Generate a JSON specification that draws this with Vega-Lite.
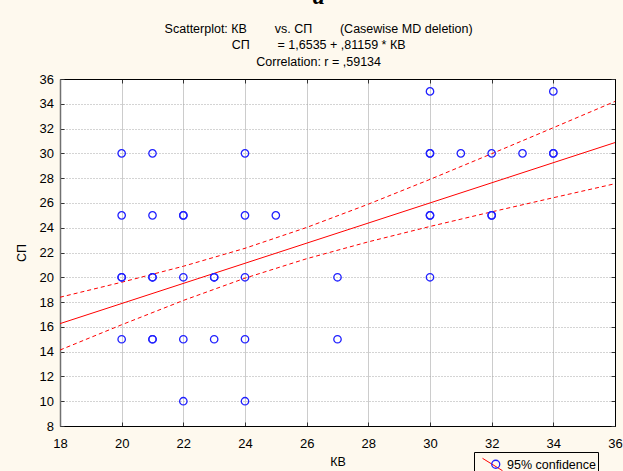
{
  "$schema": "https://vega.github.io/schema/vega-lite/v6.json",
  "width": 555,
  "height": 347,
  "autosize": {"type": "none"},
  "padding": {"left": 60, "top": 79, "right": 8, "bottom": 45},
  "background": "#FEF9EE",
  "title": {
    "text": "a",
    "subtitle": [
      "Scatterplot: КВ\u00a0\u00a0\u00a0\u00a0\u00a0\u00a0\u00a0 vs. СП\u00a0\u00a0\u00a0\u00a0\u00a0\u00a0\u00a0 (Casewise MD deletion)",
      "СП\u00a0\u00a0\u00a0\u00a0\u00a0\u00a0\u00a0 = 1,6535 + ,81159 * КВ",
      "Correlation: r = ,59134"
    ],
    "font": "Liberation Serif",
    "fontStyle": "italic",
    "fontWeight": "bold",
    "fontSize": 24,
    "color": "#000",
    "subtitleFont": "Liberation Sans",
    "subtitleFontSize": 12.5,
    "subtitleLineHeight": 16.5,
    "subtitleColor": "#000",
    "subtitlePadding": 14,
    "anchor": "middle",
    "frame": "bounds",
    "offset": 5
  },
  "datasets": {
    "pts": [
      {"KB": 20, "SP": 30}, {"KB": 20, "SP": 25}, {"KB": 20, "SP": 20}, {"KB": 20, "SP": 20}, {"KB": 20, "SP": 15},
      {"KB": 21, "SP": 30}, {"KB": 21, "SP": 25}, {"KB": 21, "SP": 20}, {"KB": 21, "SP": 20}, {"KB": 21, "SP": 15}, {"KB": 21, "SP": 15},
      {"KB": 22, "SP": 25}, {"KB": 22, "SP": 25}, {"KB": 22, "SP": 20}, {"KB": 22, "SP": 15}, {"KB": 22, "SP": 10},
      {"KB": 23, "SP": 20}, {"KB": 23, "SP": 20}, {"KB": 23, "SP": 15},
      {"KB": 24, "SP": 30}, {"KB": 24, "SP": 25}, {"KB": 24, "SP": 20}, {"KB": 24, "SP": 15}, {"KB": 24, "SP": 10},
      {"KB": 25, "SP": 25},
      {"KB": 27, "SP": 20}, {"KB": 27, "SP": 15},
      {"KB": 30, "SP": 35}, {"KB": 30, "SP": 30}, {"KB": 30, "SP": 30}, {"KB": 30, "SP": 25}, {"KB": 30, "SP": 25}, {"KB": 30, "SP": 20},
      {"KB": 31, "SP": 30},
      {"KB": 32, "SP": 30}, {"KB": 32, "SP": 25}, {"KB": 32, "SP": 25},
      {"KB": 33, "SP": 30},
      {"KB": 34, "SP": 35}, {"KB": 34, "SP": 30}, {"KB": 34, "SP": 30}
    ],
    "fit": [
      {"KB": 18, "SP": 16.26},
      {"KB": 36, "SP": 30.87}
    ],
    "band": [
      {"KB": 18, "hi": 18.39, "lo": 14.13},
      {"KB": 20, "hi": 19.60, "lo": 16.17},
      {"KB": 22, "hi": 20.89, "lo": 18.13},
      {"KB": 24, "hi": 22.34, "lo": 19.93},
      {"KB": 26, "hi": 24.02, "lo": 21.50},
      {"KB": 28, "hi": 25.90, "lo": 22.86},
      {"KB": 30, "hi": 27.90, "lo": 24.10},
      {"KB": 32, "hi": 29.97, "lo": 25.28},
      {"KB": 34, "hi": 32.07, "lo": 26.42},
      {"KB": 36, "hi": 34.19, "lo": 27.55}
    ]
  },
  "layer": [
    {
      "data": {"name": "band"},
      "mark": {"type": "line", "color": "#ff0000", "strokeWidth": 1, "strokeDash": [4, 3]},
      "encoding": {
        "x": {
          "field": "KB", "type": "quantitative",
          "scale": {"domain": [18, 36], "nice": false, "zero": false},
          "axis": {
            "orient": "bottom",
            "values": [18, 20, 22, 24, 26, 28, 30, 32, 34, 36],
            "title": "КВ",
            "titleFont": "Liberation Sans", "titleFontSize": 12.5, "titleFontWeight": "normal", "titleColor": "#000", "titlePadding": 5,
            "labelFont": "Liberation Sans", "labelFontSize": 13, "labelColor": "#000",
            "labelFlush": false, "labelOverlap": false,
            "tickSize": -4, "tickColor": "#333", "labelPadding": 15,
            "domainColor": "#000",
            "grid": true, "gridColor": "#cccccc", "gridWidth": 1
          }
        },
        "y": {
          "field": "hi", "type": "quantitative",
          "scale": {"domain": [8, 36], "nice": false, "zero": false},
          "axis": {
            "orient": "left",
            "values": [8, 10, 12, 14, 16, 18, 20, 22, 24, 26, 28, 30, 32, 34, 36],
            "title": "СП",
            "titleFont": "Liberation Sans", "titleFontSize": 12.5, "titleFontWeight": "normal", "titleColor": "#000", "titlePadding": 11,
            "labelFont": "Liberation Sans", "labelFontSize": 13, "labelColor": "#000",
            "labelFlush": false, "labelOverlap": false,
            "tickSize": -4, "tickColor": "#333", "labelPadding": 10.5,
            "domainColor": "#707070", "domainWidth": 1.5,
            "grid": true, "gridColor": "#a8a8a8", "gridDash": [1, 2], "gridWidth": 1
          }
        }
      }
    },
    {
      "data": {"name": "band"},
      "mark": {"type": "line", "color": "#ff0000", "strokeWidth": 1, "strokeDash": [4, 3]},
      "encoding": {
        "x": {
          "field": "KB", "type": "quantitative",
          "axis": {
            "orient": "top", "values": [18, 20, 22, 24, 26, 28, 30, 32, 34, 36],
            "title": null, "labels": false, "tickSize": -4, "tickColor": "#333", "domainColor": "#000", "grid": false
          }
        },
        "y": {
          "field": "lo", "type": "quantitative",
          "axis": {
            "orient": "right", "values": [8, 10, 12, 14, 16, 18, 20, 22, 24, 26, 28, 30, 32, 34, 36],
            "title": null, "labels": false, "tickSize": -4, "tickColor": "#333", "domainColor": "#000", "grid": false
          }
        }
      }
    },
    {
      "data": {"name": "fit"},
      "mark": {"type": "line", "strokeWidth": 1},
      "encoding": {
        "x": {"field": "KB", "type": "quantitative", "axis": null},
        "y": {"field": "SP", "type": "quantitative", "axis": null},
        "color": {
          "datum": "95% confidence",
          "scale": {"range": ["#ff0000"]},
          "legend": {
            "orient": "none", "legendX": 414, "legendY": 373,
            "title": null,
            "symbolType": "M-1,-0.62L1,0.62",
            "symbolSize": 400,
            "symbolStrokeColor": "#ff0000",
            "symbolStrokeWidth": 1,
            "symbolFillColor": "transparent",
            "symbolOffset": 6,
            "padding": 2,
            "strokeColor": "#000",
            "labelFont": "Liberation Sans", "labelFontSize": 12.5, "labelColor": "#000",
            "labelOffset": 4, "labelLimit": 400,
            "labelExpr": "datum.label + '\u00a0\u00a0\u00a0\u00a0\u00a0\u00a0\u00a0\u00a0'"
          }
        }
      }
    },
    {
      "data": {"name": "pts"},
      "mark": {"type": "point", "filled": false, "stroke": "#2020ff", "strokeWidth": 1.3, "size": 55, "opacity": 1},
      "encoding": {
        "x": {"field": "KB", "type": "quantitative", "axis": null},
        "y": {"field": "SP", "type": "quantitative", "axis": null},
        "shape": {
          "datum": "obs",
          "scale": {"range": ["circle"]},
          "legend": {
            "orient": "none", "legendX": 414, "legendY": 377,
            "title": null,
            "symbolSize": 64,
            "symbolStrokeColor": "#2020ff",
            "symbolFillColor": "transparent",
            "symbolStrokeWidth": 1.3,
            "symbolOffset": 13.5,
            "padding": 2,
            "labelExpr": "''",
            "labelFontSize": 12.5
          }
        }
      }
    }
  ],
  "resolve": {"axis": {"x": "independent", "y": "independent"}},
  "config": {
    "view": {"stroke": "#000", "strokeWidth": 1, "fill": "#ffffff"},
    "font": "Liberation Sans"
  }
}
